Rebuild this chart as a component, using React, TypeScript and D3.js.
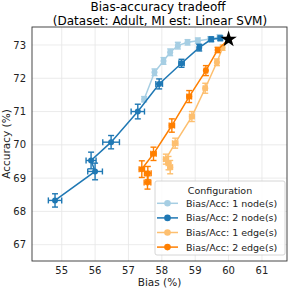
import React from 'react';
import * as d3 from 'd3';

// values (bias %, accuracy %, and their error bars)
const node1Bias = [57.47, 57.78, 58.05, 58.25, 58.48, 58.77, 59.08, 59.45, 59.73, 60.0];
const node1Acc = [71.37, 72.18, 72.52, 72.78, 72.98, 73.08, 73.13, 73.18, 73.24, 73.17];
const node1XErr = [0.05, 0.05, 0.05, 0.05, 0.05, 0.05, 0.05, 0.04, 0.04, 0];
const node1YErr = [0.08, 0.1, 0.1, 0.1, 0.1, 0.08, 0.08, 0.07, 0.07, 0];

const node2Bias = [54.8, 56.0, 55.88, 56.48, 57.28, 57.92, 58.59, 59.12, 59.48, 59.75, 60.0];
const node2Acc = [68.33, 69.2, 69.53, 70.08, 71.0, 71.83, 72.45, 72.92, 73.17, 73.2, 73.17];
const node2XErr = [0.2, 0.22, 0.15, 0.25, 0.2, 0.1, 0.08, 0.05, 0.05, 0.05, 0];
const node2YErr = [0.2, 0.25, 0.25, 0.2, 0.22, 0.15, 0.12, 0.1, 0.07, 0.07, 0];

const edge1Bias = [58.25, 58.2, 58.12, 58.4, 58.9, 59.3, 59.65, 59.82, 60.0];
const edge1Acc = [69.33, 69.45, 69.57, 70.05, 70.85, 71.7, 72.48, 72.92, 73.17];
const edge1XErr = [0.07, 0.07, 0.07, 0.08, 0.07, 0.06, 0.05, 0.04, 0];
const edge1YErr = [0.2, 0.2, 0.15, 0.15, 0.15, 0.15, 0.1, 0.08, 0];

const edge2Bias = [57.57, 57.58, 57.4, 57.75, 58.3, 58.82, 59.32, 59.67, 60.0];
const edge2Acc = [68.87, 69.15, 69.27, 69.73, 70.58, 71.45, 72.23, 72.85, 73.17];
const edge2XErr = [0.1, 0.1, 0.08, 0.08, 0.08, 0.07, 0.05, 0.03, 0];
const edge2YErr = [0.2, 0.2, 0.25, 0.2, 0.2, 0.18, 0.15, 0.08, 0];

const baseBias = 60.0;
const baseAcc = 73.17;

const xTicks = [55, 56, 57, 58, 59, 60, 61];
const yTicks = [67, 68, 69, 70, 71, 72, 73];

const seriesNames = ['Bias/Acc: 1 node(s)', 'Bias/Acc: 2 node(s)', 'Bias/Acc: 1 edge(s)', 'Bias/Acc: 2 edge(s)'];
const seriesColors = ['#a6cee3', '#1f78b4', '#fdbf6f', '#ff7f00'];

const font = 'DejaVu Sans, sans-serif';

export default function App() {
  const x = d3.scaleLinear().domain([54.11, 61.75]).range([32, 287]);
  const y = d3.scaleLinear().domain([66.51, 73.54]).range([261, 27]);

  const series = [
    { bias: node1Bias, acc: node1Acc, xe: node1XErr, ye: node1YErr },
    { bias: node2Bias, acc: node2Acc, xe: node2XErr, ye: node2YErr },
    { bias: edge1Bias, acc: edge1Acc, xe: edge1XErr, ye: edge1YErr },
    { bias: edge2Bias, acc: edge2Acc, xe: edge2XErr, ye: edge2YErr },
  ];

  const line = d3.line<number>();
  const cap = 3;
  const star = d3.symbol().type(d3.symbolStar).size(85)();

  return (
    <svg width={291} height={289} style={{ position: 'absolute', left: 0, top: 0 }} fontFamily={font}>
      <rect width={291} height={289} fill="#fff" />
      {/* grid */}
      {xTicks.map(t => (
        <line key={'gx' + t} x1={x(t)} x2={x(t)} y1={27} y2={261} stroke="#e6e6e6" strokeWidth={0.8} />
      ))}
      {yTicks.map(t => (
        <line key={'gy' + t} y1={y(t)} y2={y(t)} x1={32} x2={287} stroke="#e6e6e6" strokeWidth={0.8} />
      ))}

      {series.map((s, k) => {
        const c = seriesColors[k];
        const pts = s.bias.map((b, i) => [x(b), y(s.acc[i])] as [number, number]);
        return (
          <g key={'s' + k}>
            {s.bias.map((b, i) => {
              if (!s.xe[i] && !s.ye[i]) return null;
              const cx = x(b), cy = y(s.acc[i]);
              const x0 = x(b - s.xe[i]), x1 = x(b + s.xe[i]);
              const y0 = y(s.acc[i] - s.ye[i]), y1 = y(s.acc[i] + s.ye[i]);
              return (
                <g key={i} stroke={c} strokeWidth={1.4}>
                  <line x1={x0} x2={x1} y1={cy} y2={cy} />
                  <line x1={x0} x2={x0} y1={cy - cap} y2={cy + cap} />
                  <line x1={x1} x2={x1} y1={cy - cap} y2={cy + cap} />
                  <line x1={cx} x2={cx} y1={y0} y2={y1} />
                  <line x1={cx - cap} x2={cx + cap} y1={y0} y2={y0} />
                  <line x1={cx - cap} x2={cx + cap} y1={y1} y2={y1} />
                </g>
              );
            })}
            <path d={line(pts as any) || ''} fill="none" stroke={c} strokeWidth={1.5} />
            {pts.map((p, i) => (
              <circle key={'m' + i} cx={p[0]} cy={p[1]} r={3} fill={c} />
            ))}
          </g>
        );
      })}

      <path d={star} transform={`translate(${x(baseBias)},${y(baseAcc)})`} fill="#000" />

      {/* spines */}
      <rect x={32} y={27} width={255} height={234} fill="none" stroke="#333" strokeWidth={0.9} />

      {/* ticks */}
      {xTicks.map(t => (
        <text key={'tx' + t} x={x(t)} y={274} fontSize={10} textAnchor="middle" fill="#222">{t}</text>
      ))}
      {yTicks.map(t => (
        <text key={'ty' + t} x={26} y={y(t) + 3.6} fontSize={10} textAnchor="end" fill="#222">{t}</text>
      ))}

      {/* labels */}
      <text x={159.5} y={286} fontSize={10.5} textAnchor="middle" fill="#222">Bias (%)</text>
      <text transform={`translate(10,144) rotate(-90)`} fontSize={10.5} textAnchor="middle" fill="#222">Accuracy (%)</text>
      <text x={158} y={11} fontSize={12} textAnchor="middle" fill="#000">Bias-accuracy tradeoff</text>
      <text x={160} y={24.5} fontSize={12} textAnchor="middle" fill="#000">(Dataset: Adult, MI est: Linear SVM)</text>

      {/* legend */}
      <g>
        <rect x={155} y={181} width={130} height={74} rx={2} fill="#fff" fillOpacity={0.85} stroke="#cccccc" strokeWidth={0.8} />
        <text x={220} y={193.5} fontSize={9.5} textAnchor="middle" fill="#222">Configuration</text>
        {seriesNames.map((n, i) => {
          const ry = 203.3 + i * 14.6;
          return (
            <g key={'lg' + i}>
              <line x1={157} x2={178} y1={ry} y2={ry} stroke={seriesColors[i]} strokeWidth={1.5} />
              <circle cx={167.5} cy={ry} r={3.3} fill={seriesColors[i]} />
              <text x={186} y={ry + 3.4} fontSize={9.5} fill="#222">{n}</text>
            </g>
          );
        })}
      </g>
    </svg>
  );
}
